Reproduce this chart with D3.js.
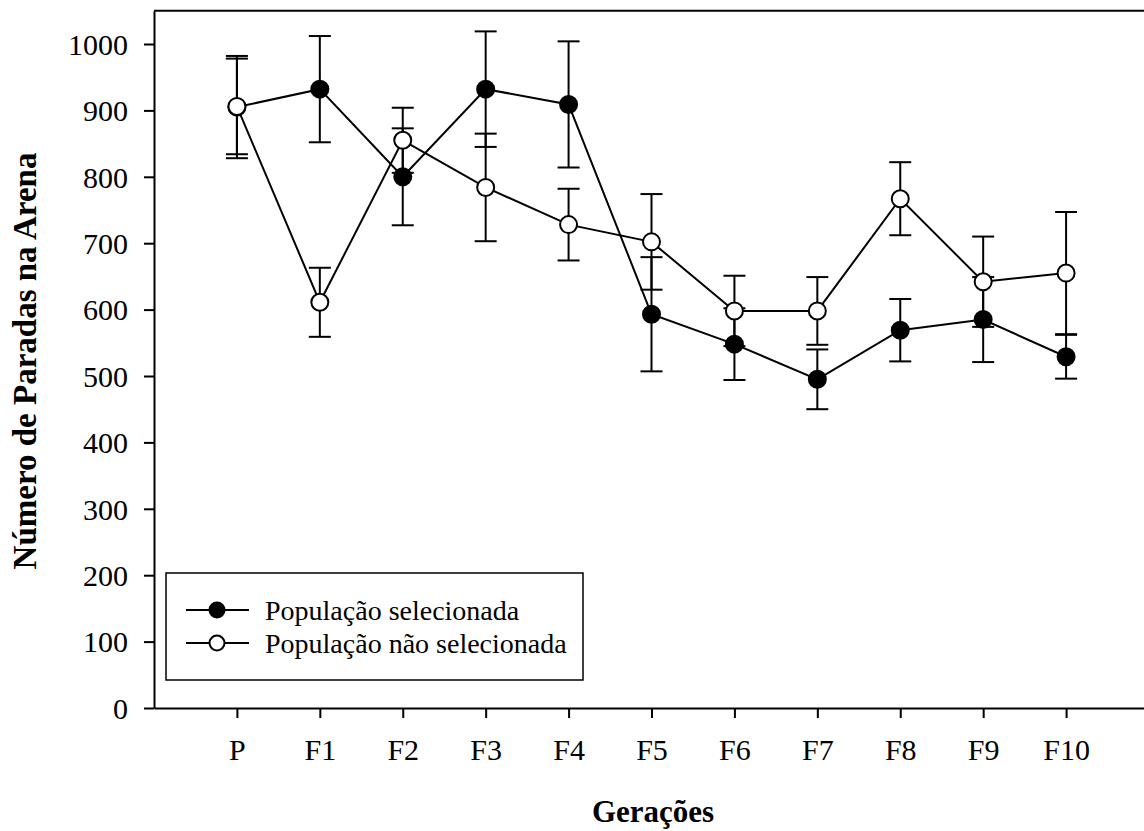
<!DOCTYPE html>
<html>
<head>
<meta charset="utf-8">
<script src="https://cdn.jsdelivr.net/npm/d3@7"></script>
<style>
  html, body { margin: 0; padding: 0; background: #fff; }
  svg { display: block; }
  text { font-family: "Liberation Serif", "Times New Roman", serif; fill: #000; }
</style>
</head>
<body>
<svg id="chart" width="1144" height="831"></svg>
<script>
// Generations on the x axis
const categories = ["P", "F1", "F2", "F3", "F4", "F5", "F6", "F7", "F8", "F9", "F10"];

// Selected population: mean number of stops and error
const selectedMean = [905, 932, 800, 932, 909, 593, 548, 495, 569, 585, 529];
const selectedErr  = [77, 80, 73, 87, 95, 86, 54, 45, 47, 64, 33];

// Non-selected population: mean number of stops and error
const unselectedMean = [906, 611, 855, 784, 728, 702, 598, 598, 767, 642, 655];
const unselectedErr  = [72, 52, 49, 81, 54, 72, 53, 51, 55, 68, 92];

const yTicks = [0, 100, 200, 300, 400, 500, 600, 700, 800, 900, 1000];

const seriesNames = ["População selecionada", "População não selecionada"];

const svg = d3.select("#chart");

const plotLeft = 154, plotRight = 1149, plotTop = 10.8, plotBottom = 708;

const x = d3.scaleLinear().domain([-1, 11]).range([plotLeft, plotRight]);
const y = d3.scaleLinear().domain([0, 1050]).range([plotBottom, plotTop]);

// Frame: top border
svg.append("line")
  .attr("x1", plotLeft).attr("x2", plotRight)
  .attr("y1", plotTop).attr("y2", plotTop)
  .attr("stroke", "#000").attr("stroke-width", 2);

// Y axis
const yAxis = svg.append("g")
  .attr("transform", `translate(${plotLeft},0)`)
  .call(d3.axisLeft(y).tickValues(yTicks).tickFormat(d3.format("d"))
    .tickSize(10).tickSizeOuter(0).tickPadding(16));
yAxis.select(".domain").attr("stroke-width", 2);
yAxis.selectAll(".tick line").attr("stroke-width", 2);
yAxis.selectAll(".tick text")
  .style("font-size", "30px")
  .attr("dy", "0.34em");

// X axis
const xAxis = svg.append("g")
  .attr("transform", `translate(0,${plotBottom})`)
  .call(d3.axisBottom(x)
    .tickValues(d3.range(categories.length))
    .tickFormat(i => categories[i])
    .tickSize(10).tickSizeOuter(0).tickPadding(14));
xAxis.select(".domain").attr("stroke-width", 2);
xAxis.selectAll(".tick line").attr("stroke-width", 2);
xAxis.selectAll(".tick text")
  .style("font-size", "30px")
  .attr("dy", "0")
  .attr("y", 52);

// Axis titles
svg.append("text")
  .attr("transform", "translate(36,361) rotate(-90)")
  .attr("text-anchor", "middle")
  .style("font-size", "33px")
  .style("font-weight", "bold")
  .text("Número de Paradas na Arena");

svg.append("text")
  .attr("x", 653).attr("y", 822)
  .attr("text-anchor", "middle")
  .style("font-size", "31px")
  .style("font-weight", "bold")
  .text("Gerações");

const capHalf = 11;
const series = [
  { mean: selectedMean, err: selectedErr, fill: "#000" },
  { mean: unselectedMean, err: unselectedErr, fill: "#fff" }
];

const line = d3.line().x((d, i) => x(i)).y(d => y(d));

// Error bars first, behind everything
series.forEach(s => {
  const g = svg.append("g").attr("stroke", "#000").attr("stroke-width", 2);
  s.mean.forEach((m, i) => {
    const hi = m + s.err[i], lo = m - s.err[i];
    g.append("line").attr("x1", x(i)).attr("x2", x(i)).attr("y1", y(hi)).attr("y2", y(lo));
    g.append("line").attr("x1", x(i) - capHalf).attr("x2", x(i) + capHalf).attr("y1", y(hi)).attr("y2", y(hi));
    g.append("line").attr("x1", x(i) - capHalf).attr("x2", x(i) + capHalf).attr("y1", y(lo)).attr("y2", y(lo));
  });
});

// Connecting lines and markers
series.forEach(s => {
  svg.append("path")
    .datum(s.mean)
    .attr("d", line)
    .attr("fill", "none")
    .attr("stroke", "#000")
    .attr("stroke-width", 2);
  svg.append("g").selectAll("circle")
    .data(s.mean)
    .join("circle")
    .attr("cx", (d, i) => x(i))
    .attr("cy", d => y(d))
    .attr("r", 8.5)
    .attr("fill", s.fill)
    .attr("stroke", "#000")
    .attr("stroke-width", 2);
});

// Legend
const legend = svg.append("g");
legend.append("rect")
  .attr("x", 166).attr("y", 573)
  .attr("width", 417).attr("height", 107)
  .attr("fill", "#fff")
  .attr("stroke", "#000")
  .attr("stroke-width", 1.5);

const rows = [610, 643];
series.forEach((s, k) => {
  const ry = rows[k];
  legend.append("line")
    .attr("x1", 186).attr("x2", 249)
    .attr("y1", ry).attr("y2", ry)
    .attr("stroke", "#000").attr("stroke-width", 2);
  legend.append("circle")
    .attr("cx", 217).attr("cy", ry).attr("r", 7.5)
    .attr("fill", s.fill).attr("stroke", "#000").attr("stroke-width", 2);
  legend.append("text")
    .attr("x", 265).attr("y", ry + 10)
    .style("font-size", "28px")
    .text(seriesNames[k]);
});
</script>
</body>
</html>
